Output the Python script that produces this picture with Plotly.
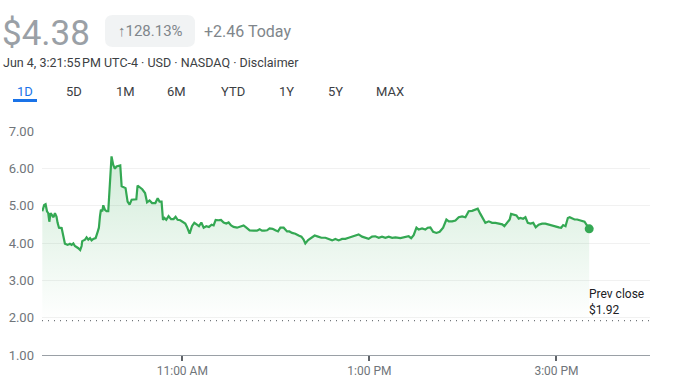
import plotly.graph_objects as go

# ---- data (minutes after 9:30 AM open, price in USD) ----
minutes = [0.2, 1.4, 2.3, 3.2, 4.0, 4.7, 5.5, 6.6, 7.4, 8.3, 9.3, 10.0, 10.9, 12.6, 13.8, 14.7,
           16.4, 17.9, 19.0, 20.1, 21.1, 22.2, 23.3, 24.5, 25.4, 25.8, 27.6, 28.6, 29.7, 30.8,
           31.8, 32.9, 34.4, 35.7, 36.5, 37.2, 37.8, 38.7, 39.3, 40.4, 41.4, 42.5, 43.4, 44.6,
           45.7, 46.8, 47.8, 49.4, 50.2, 51.1, 52.3, 53.6, 54.9, 56.2, 57.5, 59.2, 60.5, 61.3,
           62.9, 64.3, 66.1, 67.4, 69.0, 70.6, 72.7, 74.2, 75.4, 76.7, 77.6, 78.5, 79.7, 81.2,
           82.8, 84.4, 85.7, 87.0, 88.7, 90.5, 91.9, 93.0, 94.7, 96.2, 97.7, 99.4, 100.7, 102.2,
           103.7, 105.4, 107.1, 108.8, 110.1, 111.4, 113.1, 114.8, 116.5, 118.2, 119.7, 121.3,
           122.9, 125.1, 127.2, 129.3, 131.1, 133.2, 135.8, 137.9, 139.6, 141.1, 142.6, 144.4,
           146.0, 147.9, 149.7, 151.4, 152.9, 155.0, 157.2, 158.7, 160.4, 162.5, 164.6, 166.4,
           167.8, 168.9, 170.7, 172.8, 174.9, 177.1, 179.2, 181.8, 183.9, 186.1, 188.2, 190.3,
           192.5, 194.6, 196.7, 198.9, 201.0, 203.1, 205.3, 207.4, 209.5, 211.7, 213.8, 216.0,
           218.1, 220.3, 222.4, 224.6, 226.7, 229.9, 233.1, 235.2, 236.8, 238.4, 240.2, 241.6,
           243.8, 245.9, 247.4, 249.1, 250.9, 253.0, 255.1, 257.3, 259.4, 260.9, 263.1, 265.2,
           267.3, 269.5, 271.6, 273.7, 275.9, 278.0, 279.5, 281.2, 283.0, 284.4, 286.6, 288.7,
           290.9, 293.0, 295.2, 296.6, 298.4, 300.0, 300.9, 302.6, 304.3, 305.8, 306.9, 308.6,
           310.1, 311.6, 313.3, 315.1, 316.7, 318.6, 320.8, 322.9, 325.1, 327.2, 329.4, 331.5,
           333.0, 334.3, 335.8, 337.3, 338.5, 340.1, 341.6, 343.3, 345.0, 346.5, 348.0, 351.0]
prices = [4.85, 5.02, 5.04, 4.85, 4.80, 4.57, 4.80, 4.75, 4.69, 4.80, 4.71, 4.54, 4.41, 4.40, 4.18, 3.98,
          3.95, 3.98, 3.95, 3.99, 3.92, 3.90, 3.86, 3.81, 3.92, 4.05, 4.09, 4.15, 4.09, 4.13,
          4.07, 4.11, 4.13, 4.30, 4.41, 4.72, 4.89, 4.85, 5.01, 4.89, 4.85, 4.85, 5.56, 6.32,
          6.09, 5.99, 6.05, 6.07, 6.08, 5.52, 5.49, 5.47, 5.11, 5.03, 5.16, 5.17, 5.17, 5.54,
          5.49, 5.44, 5.34, 5.09, 5.14, 5.07, 5.07, 5.20, 5.11, 5.11, 4.62, 4.67, 4.62, 4.72,
          4.64, 4.64, 4.70, 4.62, 4.61, 4.55, 4.52, 4.43, 4.25, 4.45, 4.54, 4.49, 4.45, 4.55,
          4.41, 4.45, 4.43, 4.49, 4.47, 4.62, 4.61, 4.62, 4.55, 4.52, 4.55, 4.47,
          4.43, 4.41, 4.43, 4.47, 4.41, 4.34, 4.33, 4.33, 4.37, 4.33, 4.33, 4.34,
          4.39, 4.38, 4.34, 4.31, 4.41, 4.41, 4.31, 4.31, 4.27, 4.25, 4.20, 4.17,
          4.09, 3.99, 4.08, 4.14, 4.20, 4.17, 4.14, 4.14, 4.11, 4.07, 4.11, 4.07,
          4.11, 4.11, 4.14, 4.17, 4.20, 4.23, 4.17, 4.14, 4.11, 4.17, 4.18, 4.14,
          4.17, 4.14, 4.17, 4.14, 4.15, 4.13, 4.15, 4.18, 4.13, 4.21, 4.41, 4.36,
          4.39, 4.36, 4.41, 4.42, 4.30, 4.27, 4.30, 4.41, 4.63, 4.58, 4.58, 4.60,
          4.69, 4.71, 4.69, 4.85, 4.86, 4.89, 4.92, 4.78, 4.63, 4.54, 4.58, 4.54,
          4.54, 4.52, 4.50, 4.45, 4.54, 4.63, 4.78, 4.76, 4.74, 4.65, 4.67, 4.65,
          4.69, 4.54, 4.52, 4.54, 4.42, 4.49, 4.52, 4.52, 4.49, 4.48, 4.45, 4.42,
          4.41, 4.48, 4.45, 4.67, 4.69, 4.65, 4.63, 4.63, 4.61, 4.58, 4.57, 4.38]

prev_close = 1.92
x_tick_vals = [90, 210, 330]
x_tick_text = ["11:00 AM", "1:00 PM", "3:00 PM"]
tabs = ["1D", "5D", "1M", "6M", "YTD", "1Y", "5Y", "MAX"]
tab_centers_px = [25, 74, 125, 176, 233, 286, 335, 390]

price_text = "$4.38"
change_pct_text = "\u2191128.13%"
change_abs_text = "+2.46 Today"
sub_text = "Jun 4, 3:21:55\u202fPM UTC-4 · USD · NASDAQ · Disclaimer"

# ---- layout geometry ----
W, H = 675, 386
L, R, T, B = 42, 25, 131, 31
PW, PH = W - L - R, H - T - B

def px(xp):
    return (xp - L) / PW

def py(yp):
    return (H - B - yp) / PH

GREEN = "#34a853"
FONT = "Roboto, Arial, sans-serif"

fig = go.Figure()
fig.add_trace(go.Scatter(
    x=minutes, y=prices, mode="lines",
    line=dict(color=GREEN, width=2.2),
    fill="tozeroy",
    fillgradient=dict(type="vertical", start=1.9, stop=6.3,
                      colorscale=[[0, "rgba(52,168,83,0)"], [1, "rgba(52,168,83,0.22)"]]),
    hoverinfo="skip", showlegend=False,
))
fig.add_trace(go.Scatter(
    x=[minutes[-1]], y=[prices[-1]], mode="markers",
    marker=dict(color=GREEN, size=9), showlegend=False, hoverinfo="skip",
))

shapes = [
    dict(type="line", xref="paper", yref="y", x0=0, x1=1, y0=prev_close, y1=prev_close,
         line=dict(color="#70757a", width=1.2, dash="1px,5px"), layer="above"),
]

# pill behind the percent change
x0, x1, y0, y1, r = 105, 195, 15, 47, 8
rx, ry = r / PW, r / PH
X0, X1, Y0, Y1 = px(x0), px(x1), py(y1), py(y0)
path = (f"M {X0+rx},{Y0} L {X1-rx},{Y0} Q {X1},{Y0} {X1},{Y0+ry} L {X1},{Y1-ry} "
        f"Q {X1},{Y1} {X1-rx},{Y1} L {X0+rx},{Y1} Q {X0},{Y1} {X0},{Y1-ry} "
        f"L {X0},{Y0+ry} Q {X0},{Y0} {X0+rx},{Y0} Z")
shapes.append(dict(type="path", xref="paper", yref="paper", path=path,
                   fillcolor="#f1f3f4", line=dict(width=0), layer="below"))
# tab underline
shapes.append(dict(type="rect", xref="paper", yref="paper",
                   x0=px(13), x1=px(37), y0=py(102), y1=py(99),
                   fillcolor="#1a73e8", line=dict(width=0)))

annotations = [
    dict(text=price_text, x=px(0), y=py(33), xref="paper", yref="paper",
         xanchor="left", yanchor="middle", showarrow=False,
         font=dict(family=FONT, size=35, color="#9aa0a6")),
    dict(text=change_pct_text, x=px(150), y=py(31), xref="paper", yref="paper",
         xanchor="center", yanchor="middle", showarrow=False,
         font=dict(family=FONT, size=15, color="#80868b")),
    dict(text=change_abs_text, x=px(202), y=py(31), xref="paper", yref="paper",
         xanchor="left", yanchor="middle", showarrow=False,
         font=dict(family=FONT, size=16, color="#80868b")),
    dict(text=sub_text, x=px(1), y=py(62), xref="paper", yref="paper",
         xanchor="left", yanchor="middle", showarrow=False,
         font=dict(family=FONT, size=12.5, color="#3c4043")),
    dict(text="Prev close<br>$1.92", x=minutes[-1], y=prev_close, xref="x", yref="y",
         xanchor="left", yanchor="bottom", align="left", showarrow=False, yshift=2,
         xshift=-2, font=dict(family=FONT, size=12, color="#202124")),
]
for t, c in zip(tabs, tab_centers_px):
    annotations.append(dict(text=t, x=px(c), y=py(91), xref="paper", yref="paper",
                            xanchor="center", yanchor="middle", showarrow=False,
                            font=dict(family=FONT, size=13,
                                      color="#1a73e8" if t == "1D" else "#3c4043")))

fig.update_layout(
    width=W, height=H,
    margin=dict(l=L, r=R, t=T, b=B, pad=0, autoexpand=False),
    paper_bgcolor="white", plot_bgcolor="white",
    shapes=shapes, annotations=annotations,
    xaxis=dict(range=[0, 390], tickvals=x_tick_vals, ticktext=x_tick_text,
               showgrid=False, zeroline=False, showline=True, linecolor="#9aa0a6",
               linewidth=1, ticks="outside", ticklen=5, tickwidth=2, tickcolor="#5f6368",
               tickfont=dict(family=FONT, size=12, color="#70757a"), fixedrange=True,
               automargin=False),
    yaxis=dict(range=[1, 7], dtick=1, tick0=1, tickformat=".2f", showgrid=True,
               gridcolor="#f1f1f1", gridwidth=1, zeroline=False, showline=False,
               ticklabelstandoff=7, automargin=False,
               tickfont=dict(family=FONT, size=13, color="#70757a"), fixedrange=True),
    font=dict(family=FONT),
)

fig.write_html("out.html", config={"displayModeBar": False},
               post_script="document.body.style.margin='0';document.body.style.overflow='hidden';")
